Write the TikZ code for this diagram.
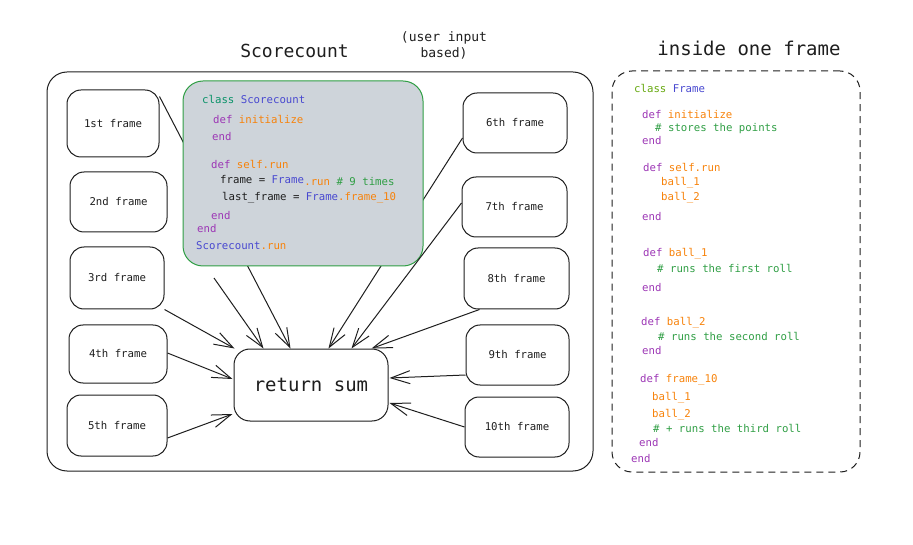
\documentclass[tikz,border=0pt]{standalone}
\usepackage{fontspec}
\usetikzlibrary{arrows.meta}
\newfontfamily\monof{DejaVu Sans Mono}
\definecolor{ink}{HTML}{1E1E1E}
\definecolor{cteal}{HTML}{099268}
\definecolor{clime}{HTML}{66A80F}
\definecolor{cblue}{HTML}{4848D0}
\definecolor{corange}{HTML}{F7820A}
\definecolor{cpurple}{HTML}{9C36B5}
\definecolor{cgreen}{HTML}{2F9E44}
\definecolor{codebg}{HTML}{CED4DA}
\newcommand\Kw[1]{\textcolor{cpurple}{#1}}
\newcommand\Fn[1]{\textcolor{corange}{#1}}
\newcommand\Ty[1]{\textcolor{cblue}{#1}}
\newcommand\Cm[1]{\textcolor{cgreen}{#1}}
\tikzset{
  framebox/.style={draw=ink, line width=1pt, rounded corners=14pt, fill=white,
    font=\monof\fontsize{10.7}{12}\selectfont, text=ink, inner sep=0pt},
  code/.style={anchor=base west, inner sep=0pt, font=\monof\fontsize{10.7}{12}\selectfont, text=ink},
  title/.style={inner sep=0pt, text=ink},
  conn/.style={draw=ink, line width=1pt},
  arr/.style={conn, -{Straight Barb[length=19pt,width=13pt,line width=1pt]}},
}
\begin{document}
\begin{tikzpicture}[x=1pt,y=-1pt]
\useasboundingbox (0,0) rectangle (913,545);
% titles
\node[title, font=\monof\fontsize{18}{20}\selectfont] (t1) at (294.5,51) {Scorecount};
\node[title, font=\monof\fontsize{13}{16}\selectfont, align=center] (t2) at (444,45) {(user input\\based)};
\node[title, font=\monof\fontsize{19}{21}\selectfont] (t3) at (749,48) {inside one frame};
% containers
\node[draw=ink, line width=1pt, rounded corners=20pt, minimum width=546pt, minimum height=399pt, inner sep=0pt] (outer) at (320,271.5) {};
\node[draw=ink, line width=1pt, dash pattern=on 7pt off 5pt, rounded corners=20pt, minimum width=248pt, minimum height=401pt, inner sep=0pt] (inner) at (736,271.5) {};
% frames
\node[framebox, minimum width=92pt, minimum height=67pt] (f1) at (113,123.5) {1st frame};
\node[framebox, minimum width=97pt, minimum height=60pt] (f2) at (118.5,202) {2nd frame};
\node[framebox, minimum width=94pt, minimum height=62pt] (f3) at (117,278) {3rd frame};
\node[framebox, minimum width=98pt, minimum height=58pt] (f4) at (118,354) {4th frame};
\node[framebox, minimum width=100pt, minimum height=61pt] (f5) at (117,425.5) {5th frame};
\node[framebox, minimum width=104pt, minimum height=60pt] (f6) at (515,123) {6th frame};
\node[framebox, minimum width=105pt, minimum height=60pt] (f7) at (514.5,207) {7th frame};
\node[framebox, minimum width=105pt, minimum height=61pt] (f8) at (516.5,278.5) {8th frame};
\node[framebox, minimum width=103pt, minimum height=60pt] (f9) at (517.5,355) {9th frame};
\node[framebox, minimum width=104pt, minimum height=60pt] (f10) at (517,427) {10th frame};
\node[framebox, rounded corners=16pt, minimum width=154pt, minimum height=72pt, font=\monof\fontsize{19}{21}\selectfont] (rs) at (311,385) {return sum};
% connectors passing behind the code box
\draw[arr] ([yshift=-7pt]f1.north east) -- ([xshift=57pt]rs.north west);
\draw[arr] ([yshift=-15pt]f6.west) -- ([xshift=95pt]rs.north west);
% code box
\node[draw=cgreen, fill=codebg, line width=1pt, rounded corners=20pt, minimum width=240pt, minimum height=185pt, inner sep=0pt] (cb) at (303,173.5) {};
\node[code] (c1) at (202,103.5) {\textcolor{cteal}{class} \Ty{Scorecount}};
\node[code] (c2) at (213,123.5) {\Kw{def} \Fn{initialize}};
\node[code] (c3) at (212,140.5) {\Kw{end}};
\node[code] (c4) at (211,168.5) {\Kw{def} \Fn{self.run}};
\node[code] (c5) at (220,183.5) {frame = \Ty{Frame}};
\node[code] (c5b) at ([yshift=-2pt]c5.base east) {\Fn{.run} \Cm{\# 9 times}};
\node[code] (c6) at (222,200.5) {last\_frame = \Ty{Frame}\Fn{.frame\_10}};
\node[code] (c7) at (211,219.5) {\Kw{end}};
\node[code] (c8) at (197,232.5) {\Kw{end}};
\node[code] (c9) at (196,249.5) {\Ty{Scorecount}\Fn{.run}};
% other connectors
\coordinate (s2) at (214,278);
\draw[arr] (s2) -- ([xshift=30pt]rs.north west);
\draw[arr] (f3.south east) -- ([xshift=1pt]rs.north west);
\draw[arr] ([yshift=1pt]f4.east) -- ([yshift=6pt,xshift=-1pt]rs.west);
\draw[arr] ([yshift=-12.5pt]f5.east) -- ([yshift=-29pt,xshift=-1pt]rs.west);
\draw[arr] ([yshift=4pt]f7.west) -- ([xshift=118pt]rs.north west);
\draw[arr] ([xshift=16pt]f8.south west) -- ([xshift=138pt]rs.north west);
\draw[arr] ([yshift=-20pt]f9.west) -- ([yshift=7pt,xshift=1pt]rs.east);
\draw[arr] (f10.west) -- ([yshift=-18pt,xshift=1pt]rs.east);
% frame class code
\node[code] (d1) at (634,92.5) {\textcolor{clime}{class} \Ty{Frame}};
\node[code] (d2) at (642,118.5) {\Kw{def} \Fn{initialize}};
\node[code] (d3) at (655,131.5) {\Cm{\# stores the points}};
\node[code] (d4) at (642,144.5) {\Kw{end}};
\node[code] (d5) at (643,171.5) {\Kw{def} \Fn{self.run}};
\node[code] (d6) at (661,185.5) {\Fn{ball\_1}};
\node[code] (d7) at (661,200.5) {\Fn{ball\_2}};
\node[code] (d8) at (642,220.5) {\Kw{end}};
\node[code] (d9) at (643,256.5) {\Kw{def} \Fn{ball\_1}};
\node[code] (d10) at (657,272.5) {\Cm{\# runs the first roll}};
\node[code] (d11) at (642,291.5) {\Kw{end}};
\node[code] (d12) at (641,325.5) {\Kw{def} \Fn{ball\_2}};
\node[code] (d13) at (658,340.5) {\Cm{\# runs the second roll}};
\node[code] (d14) at (642,354.5) {\Kw{end}};
\node[code] (d15) at (640,382.5) {\Kw{def} \Fn{frame\_10}};
\node[code] (d16) at (652,400.5) {\Fn{ball\_1}};
\node[code] (d17) at (652,417.5) {\Fn{ball\_2}};
\node[code] (d18) at (653,432.5) {\Cm{\# + runs the third roll}};
\node[code] (d19) at (639,446.5) {\Kw{end}};
\node[code] (d20) at (631,462.5) {\Kw{end}};
\end{tikzpicture}
\end{document}
